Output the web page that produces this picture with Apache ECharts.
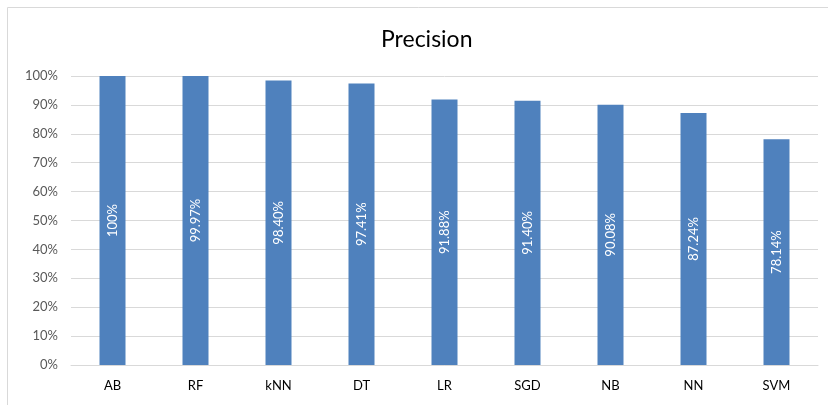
<!DOCTYPE html>
<html><head><meta charset="utf-8">
<script src="https://cdn.jsdelivr.net/npm/echarts@6/dist/echarts.min.js"></script>
<style>html,body{margin:0;padding:0;background:#fff}#c{width:828px;height:405px}</style>
</head><body><div id="c"></div>
<script>
const categories = ['AB','RF','kNN','DT','LR','SGD','NB','NN','SVM'];
const precision = [100, 99.97, 98.40, 97.41, 91.88, 91.40, 90.08, 87.24, 78.14];
const labels = ['100%','99.97%','98.40%','97.41%','91.88%','91.40%','90.08%','87.24%','78.14%'];
const font = 'Lato, "Open Sans", sans-serif';
const chart = echarts.init(document.getElementById('c'));
chart.setOption({
  animation: false,
  title: { text: 'Precision', left: 376, top: 23, textStyle: { fontFamily: font, fontSize: 23, fontWeight: 'normal', color: '#000' } },
  graphic: [{ type: 'rect', shape: { x: 7.5, y: 7.5, width: 840, height: 420 }, style: { fill: 'none', stroke: '#d9d9d9', lineWidth: 1 }, silent: true }],
  grid: { left: 71, right: 10, top: 76, bottom: 40 },
  xAxis: {
    type: 'category', data: categories,
    axisLine: { lineStyle: { color: '#d9d9d9' } }, axisTick: { show: false },
    axisLabel: { color: '#000', fontFamily: font, fontSize: 13, margin: 14 }
  },
  yAxis: {
    type: 'value', min: 0, max: 100, interval: 10,
    axisLine: { show: false }, axisTick: { show: false },
    splitLine: { lineStyle: { color: '#d9d9d9' } },
    axisLabel: { formatter: '{value}%', color: '#595959', fontFamily: font, fontSize: 13, margin: 13 }
  },
  series: [{
    type: 'bar', data: precision, barWidth: 26,
    itemStyle: { color: '#4f81bd' },
    label: { show: true, position: 'inside', rotate: 90, color: '#fff', fontFamily: font, fontSize: 13,
      formatter: p => labels[p.dataIndex] }
  }]
});
</script></body></html>
